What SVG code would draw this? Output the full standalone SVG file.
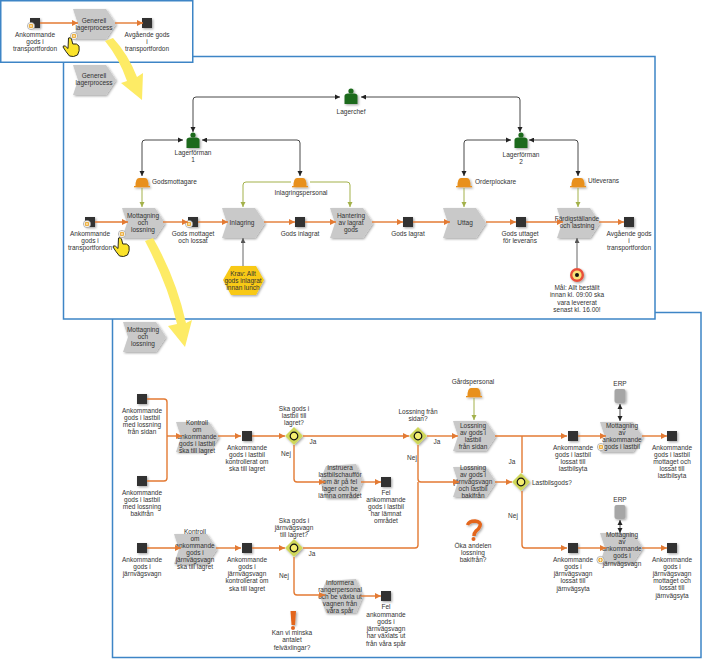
<svg xmlns="http://www.w3.org/2000/svg" width="702" height="659" viewBox="0 0 702 659">
<style>
text{font-family:"Liberation Sans",Arial,sans-serif;font-size:6.5px;fill:#333;text-anchor:middle;dominant-baseline:central}
.l{text-anchor:start}
.panel{fill:#fff;stroke:#3d85c6;stroke-width:1.5}
.fn{fill:#c9c9c9}
.ev{fill:#333}
.o{fill:none;stroke:#e37a33;stroke-width:1.4;marker-end:url(#mo)}
.on{fill:none;stroke:#e37a33;stroke-width:1.4}
.k{fill:none;stroke:#333;stroke-width:.9;marker-start:url(#mks);marker-end:url(#mk)}
.g{fill:none;stroke:#a3b14a;stroke-width:1;marker-end:url(#mg)}
.y{fill:none;stroke:#666;stroke-width:1;marker-end:url(#my)}
.arrow{fill:#fdeb65}
</style>
<defs>
<filter id="sh" x="-30%" y="-30%" width="170%" height="170%"><feDropShadow dx="1.2" dy="1.2" stdDeviation="1" flood-color="#000" flood-opacity=".35"/></filter>
<marker id="mo" markerUnits="userSpaceOnUse" markerWidth="7" markerHeight="7" refX="6" refY="3" orient="auto"><path d="M0,0L6,3L0,6Z" fill="#e37a33"/></marker>
<marker id="mk" markerUnits="userSpaceOnUse" markerWidth="7" markerHeight="7" refX="5" refY="2.500" orient="auto"><path d="M0,0L5,2.500L0,5Z" fill="#222"/></marker>
<marker id="mks" markerUnits="userSpaceOnUse" markerWidth="7" markerHeight="7" refX="0" refY="2.500" orient="auto"><path d="M5,0L0,2.500L5,5Z" fill="#222"/></marker>
<marker id="mg" markerUnits="userSpaceOnUse" markerWidth="7" markerHeight="7" refX="5" refY="2.500" orient="auto"><path d="M0,0L5,2.500L0,5Z" fill="#a3b14a"/></marker>
<marker id="my" markerUnits="userSpaceOnUse" markerWidth="7" markerHeight="7" refX="5" refY="2.500" orient="auto"><path d="M0,0L5,2.500L0,5Z" fill="#555"/></marker>
<polygon id="chev" class="fn" points="0,0 33,0 43,15 33,30 0,30 5,15" filter="url(#sh)"/>
<rect id="evt" class="ev" x="-5" y="-5" width="10" height="10" filter="url(#sh)"/>
<polygon id="hex" class="fn" points="0,17 6,2 36,0 43,17 36,34 6,34" filter="url(#sh)"/>
<g id="person" filter="url(#sh)"><circle cx="0" cy="-7" r="2.600" fill="#1f6a1f"/><path d="M-6.500,6L-6.500,-2Q-6.500,-4.500 -3,-4.500L3,-4.500Q6.500,-4.500 6.500,-2L6.500,6Z" fill="#1f6a1f"/></g>
<g id="hat" filter="url(#sh)"><path d="M-6.500,3Q-6.500,-5 -3,-5L3,-5Q6.500,-5 6.500,3Z" fill="#e8901e"/><rect x="-8" y="3" width="16" height="1.300" fill="#e8901e"/></g>
<g id="dia"><polygon points="0,-9 9,0 0,9 -9,0" fill="#cfd75a" filter="url(#sh)"/><circle r="3.800" fill="#f4ee70" stroke="#111" stroke-width="1.200"/></g>
<g id="plus"><circle r="3.600" fill="#fff" stroke="#999" stroke-width=".7"/><circle r="2.300" fill="#e8a11e"/><path d="M-1.500,0H1.500M0,-1.500V1.500" stroke="#fff" stroke-width=".7"/></g>
<g id="hand"><path d="M-2.500,-9Q-.5,-10 .5,-8L1.800,-3Q6,-4 8,-1Q9,4 6.500,8Q2.500,10.500 -1.500,9Q-5,5 -8,0Q-8,-2 -5.500,-.8L-3,1.500Z" fill="#fbe32a" stroke="#111" stroke-width=".9"/></g>
<g id="db" filter="url(#sh)"><rect x="-5.500" y="-7" width="11" height="14" rx="2" fill="#a6a6a6"/></g>
</defs>

<rect id="panel3" class="panel" x="112.500" y="312.500" width="588.500" height="345"/>
<rect id="panel2" class="panel" x="63.500" y="56.500" width="591.500" height="262.500"/>
<rect id="panel1" class="panel" x=".75" y=".75" width="192" height="61.500"/>

<g id="p1-start"><use href="#evt" x="35" y="23"/><use href="#plus" x="31" y="26"/><text x="35" y="34">Ankommande</text><text x="35" y="41">gods i</text><text x="35" y="48">transportfordon</text></g>
<g id="p1-fn"><use href="#chev" x="73" y="9"/><text x="94" y="20">Generell</text><text x="94" y="27">lagerprocess</text><use href="#plus" x="74" y="36"/><use href="#hand" x="71" y="47"/></g>
<g id="p1-end"><use href="#evt" x="147" y="23"/><text x="147" y="34">Avgående gods</text><text x="147" y="41">i</text><text x="147" y="48">transportfordon</text></g>
<g id="p2-title"><use href="#chev" x="73" y="65"/><text x="94" y="75">Generell</text><text x="94" y="82">lagerprocess</text></g>

<g id="lagerchef"><use href="#person" x="351" y="98"/><text x="351" y="111">Lagerchef</text></g>
<g id="lf1"><use href="#person" x="193" y="142"/><text x="193" y="152">Lagerförman</text><text x="193" y="159">1</text></g>
<g id="lf2"><use href="#person" x="521" y="142"/><text x="521" y="154">Lagerförman</text><text x="521" y="161">2</text></g>
<g id="godsmottagare"><use href="#hat" x="142" y="183"/><text class="l" x="152" y="181">Godsmottagare</text></g>
<g id="inlagringspersonal"><use href="#hat" x="300" y="183"/><text x="301" y="192">Inlagringspersonal</text></g>
<g id="orderplockare"><use href="#hat" x="464" y="183"/><text class="l" x="475" y="181">Orderplockare</text></g>
<g id="utleverans"><use href="#hat" x="578" y="183"/><text class="l" x="588" y="180">Utleverans</text></g>

<g id="e-ank"><use href="#evt" x="90" y="222"/><use href="#plus" x="87" y="224"/><text x="90" y="233">Ankommande</text><text x="90" y="240">gods i</text><text x="90" y="247">transportfordon</text></g>
<g id="f-mott"><use href="#chev" x="122" y="208"/><text x="143" y="215">Mottagning</text><text x="143" y="222">och</text><text x="143" y="229">lossning</text><use href="#plus" x="122" y="234"/><use href="#hand" x="121" y="247"/></g>
<g id="e-mott"><use href="#evt" x="193" y="222"/><use href="#plus" x="189" y="224"/><text x="193" y="233">Gods mottaget</text><text x="193" y="240">och lossat</text></g>
<g id="f-inl"><use href="#chev" x="222" y="208"/><text x="242" y="222">Inlagring</text></g>
<g id="e-inl"><use href="#evt" x="300" y="222"/><text x="300" y="233">Gods inlagrat</text></g>
<g id="f-hant"><use href="#chev" x="330" y="208"/><text x="351" y="215">Hantering</text><text x="351" y="222">av lagrat</text><text x="351" y="229">gods</text></g>
<g id="e-lag"><use href="#evt" x="408" y="222"/><text x="408" y="233">Gods lagrat</text></g>
<g id="f-utt"><use href="#chev" x="443" y="208"/><text x="465" y="222">Uttag</text></g>
<g id="e-utt"><use href="#evt" x="521" y="222"/><text x="520" y="233">Gods uttaget</text><text x="520" y="240">för leverans</text></g>
<g id="f-fard"><use href="#chev" x="557" y="208"/><text x="577" y="218">Färdigställande</text><text x="577" y="225">och lastning</text></g>
<g id="e-avg"><use href="#evt" x="629" y="222"/><text x="629" y="233">Avgående gods</text><text x="629" y="240">i</text><text x="629" y="247">transportfordon</text></g>
<g id="krav"><polygon points="223,280 231,266 256,266 264,280 256,295 231,295" fill="#f8c912" filter="url(#sh)"/><text x="243" y="273">Krav: Allt</text><text x="243" y="280">gods inlagrat</text><text x="243" y="287">innan lunch</text></g>
<g id="mal"><circle cx="577" cy="275" r="7" fill="#e8503a" filter="url(#sh)"/><circle cx="577" cy="275" r="4.600" fill="#f7e27a"/><circle cx="577" cy="275" r="2" fill="#111"/><text x="577" y="287">Mål: Allt beställt</text><text x="577" y="294">innan kl. 09:00 ska</text><text x="577" y="302">vara levererat</text><text x="577" y="309">senast kl. 16.00!</text></g>

<g id="p3-title"><use href="#chev" x="123" y="322"/><text x="143" y="329">Mottagning</text><text x="143" y="336">och</text><text x="143" y="343">lossning</text></g>
<g id="a1"><use href="#evt" x="142" y="399"/><text x="142" y="410">Ankommande</text><text x="142" y="417">gods i lastbil</text><text x="142" y="424">med lossning</text><text x="142" y="431">från sidan</text></g>
<g id="a2"><use href="#evt" x="142" y="481"/><text x="142" y="492">Ankommande</text><text x="142" y="499">gods i lastbil</text><text x="142" y="506">med lossning</text><text x="142" y="513">bakifrån</text></g>
<g id="k1"><use href="#chev" x="176" y="422"/><text x="197" y="422">Kontroll</text><text x="197" y="429">om</text><text x="197" y="436">ankommande</text><text x="197" y="443">gods i lastbil</text><text x="197" y="450">ska till lagret</text></g>
<g id="e1"><use href="#evt" x="247" y="436"/><text x="247" y="447">Ankommande</text><text x="247" y="454">gods i lastbil</text><text x="247" y="461">kontrollerat om</text><text x="247" y="468">ska till lagret</text></g>
<g id="d1"><use href="#dia" x="294" y="436"/><text x="294" y="408">Ska gods i</text><text x="294" y="415">lastbil till</text><text x="294" y="422">lagret?</text></g>
<g id="h1"><use href="#hex" x="320" y="464"/><text x="340" y="467">Instruera</text><text x="340" y="474">lastbilschaufför</text><text x="340" y="481">om är på fel</text><text x="340" y="488">lager och be</text><text x="340" y="495">lämna området</text></g>
<g id="e2"><use href="#evt" x="386" y="482"/><text x="386" y="492">Fel</text><text x="386" y="499">ankommande</text><text x="386" y="506">gods i lastbil</text><text x="386" y="513">har lämnat</text><text x="386" y="520">området</text></g>
<g id="d2"><use href="#dia" x="418" y="436"/><text x="418" y="411">Lossning från</text><text x="418" y="418">sidan?</text></g>
<g id="gard"><use href="#hat" x="474" y="393"/><text x="473" y="381">Gårdspersonal</text></g>
<g id="l1"><use href="#chev" x="453" y="421"/><text x="473" y="425">Lossning</text><text x="473" y="432">av gods i</text><text x="473" y="439">lastbil</text><text x="473" y="446">från sidan</text></g>
<g id="l2"><use href="#chev" x="453" y="467"/><text x="473" y="467">Lossning</text><text x="473" y="474">av gods i</text><text x="473" y="481">järnvägsvagn</text><text x="473" y="488">och lastbil</text><text x="473" y="495">bakifrån</text></g>
<g id="d3"><use href="#dia" x="521" y="482"/><text class="l" x="532" y="482">Lastbilsgods?</text></g>
<g id="e3"><use href="#evt" x="573" y="436"/><text x="573" y="447">Ankommande</text><text x="573" y="454">gods i lastbil</text><text x="573" y="461">lossat till</text><text x="573" y="468">lastbilsyta</text></g>
<g id="m1"><use href="#chev" x="600" y="422"/><text x="622" y="425">Mottagning</text><text x="622" y="432">av</text><text x="622" y="439">ankommande</text><text x="622" y="446">gods i lastbil</text><use href="#plus" x="601" y="447"/></g>
<g id="e4"><use href="#evt" x="672" y="436"/><text x="672" y="447">Ankommande</text><text x="672" y="454">gods i lastbil</text><text x="672" y="461">mottaget och</text><text x="672" y="468">lossat till</text><text x="672" y="475">lastbilsyta</text></g>
<g id="erp1"><use href="#db" x="620" y="396"/><text x="620" y="383">ERP</text></g>
<g id="erp2"><use href="#db" x="620" y="512"/><text x="620" y="499">ERP</text></g>
<g id="e5"><use href="#evt" x="573" y="548"/><text x="573" y="559">Ankommande</text><text x="573" y="566">gods i</text><text x="573" y="573">järnvägsvagn</text><text x="573" y="580">lossat till</text><text x="573" y="588">järnvägsyta</text></g>
<g id="m2"><use href="#chev" x="600" y="533"/><text x="622" y="534">Mottagning</text><text x="622" y="541">av</text><text x="622" y="548">ankommande</text><text x="622" y="555">gods i</text><text x="622" y="563">järnvägsvagn</text><use href="#plus" x="600.500" y="560"/></g>
<g id="e6"><use href="#evt" x="672" y="548"/><text x="672" y="559">Ankommande</text><text x="672" y="566">gods i</text><text x="672" y="573">järnvägsvagn</text><text x="672" y="580">mottaget och</text><text x="672" y="587">lossat till</text><text x="672" y="595">järnvägsyta</text></g>
<g id="q"><path d="M467.500,525Q469,521 475,521Q481.500,522 480,526Q479,529 476,531Q474,533 474,536" fill="none" stroke="#e3661f" stroke-width="3.500" filter="url(#sh)"/><circle cx="473.500" cy="539" r="2" fill="#e3661f"/><text x="473" y="545">Öka andelen</text><text x="473" y="552">lossning</text><text x="473" y="559">bakifrån?</text></g>
<g id="a3"><use href="#evt" x="142" y="548"/><text x="142" y="559">Ankommande</text><text x="142" y="566">gods i</text><text x="142" y="573">järnvägsvagn</text></g>
<g id="k2"><use href="#chev" x="174" y="534"/><text x="195" y="531">Kontroll</text><text x="195" y="538">om</text><text x="195" y="545">ankommande</text><text x="195" y="552">gods i</text><text x="195" y="559">järnvägsvagn</text><text x="195" y="566">ska till lagret</text></g>
<g id="e7"><use href="#evt" x="247" y="548"/><text x="247" y="559">Ankommande</text><text x="247" y="566">gods i</text><text x="247" y="573">järnvägsvagn</text><text x="247" y="580">kontrollerat om</text><text x="247" y="588">ska till lagret</text></g>
<g id="d4"><use href="#dia" x="294" y="548"/><text x="294" y="520">Ska gods i</text><text x="294" y="527">järnvägsvagn</text><text x="294" y="534">till lagret?</text></g>
<g id="h2"><use href="#hex" x="320" y="579"/><text x="340" y="582">Informera</text><text x="340" y="589">rangerpersonal</text><text x="340" y="596">och be växla ut</text><text x="340" y="603">vagnen från</text><text x="340" y="610">våra spår</text></g>
<g id="e8"><use href="#evt" x="386" y="596"/><text x="386" y="606">Fel</text><text x="386" y="614">ankommande</text><text x="386" y="621">gods i</text><text x="386" y="628">järnvägsvagn</text><text x="386" y="635">har växlats ut</text><text x="386" y="643">från våra spår</text></g>
<g id="ex"><polygon points="290.500,611 296,611 295,625 291.500,625" fill="#e3661f" filter="url(#sh)"/><circle cx="293" cy="628" r="2" fill="#e3661f"/><text x="292" y="632">Kan vi minska</text><text x="292" y="639">antalet</text><text x="292" y="647">felväxlingar?</text></g>

<g id="edge-labels"><text x="313" y="441">Ja</text><text x="286" y="453">Nej</text><text x="437" y="441">Ja</text><text x="412" y="457">Nej</text><text x="512" y="461">Ja</text><text x="513" y="515">Nej</text><text x="312" y="553">Ja</text><text x="284" y="575">Nej</text></g>

<g id="connectors">
<path class="o" d="M40,23H78"/><path class="o" d="M115,23H143"/>
<path class="k" d="M340,97H196Q193,97 193,100V132"/>
<path class="k" d="M361,97H517Q520,97 520,100V132"/>
<path class="k" d="M183,140H145Q142,140 142,143V176"/>
<path class="k" d="M202,140H297Q300,140 300,143V176"/>
<path class="k" d="M511,140H467Q464,140 464,143V176"/>
<path class="k" d="M529,140H575Q578,140 578,143V176"/>
<path class="g" d="M142,188V207"/>
<path class="g" d="M291,182H246Q243,182 243,185V207"/>
<path class="g" d="M310,182H347Q350,182 350,185V207"/>
<path class="g" d="M464,188V207"/><path class="g" d="M578,188V207"/>
<path class="o" d="M95,222H128"/><path class="o" d="M163,222H188"/><path class="o" d="M198,222H228"/><path class="o" d="M264,222H295"/><path class="o" d="M305,222H336"/><path class="o" d="M372,222H403"/><path class="o" d="M413,222H450"/><path class="o" d="M486,222H516"/><path class="o" d="M526,222H563"/><path class="o" d="M599,222H624"/>
<path class="y" d="M243,266V238"/><path class="y" d="M577,268V238"/>
<path class="on" d="M147,399H164Q167,399 167,402V478Q167,481 164,481H147"/><path class="o" d="M167,436H182"/>
<path class="o" d="M218,436H241"/><path class="o" d="M252,436H285"/><path class="o" d="M303,436H409"/>
<path class="o" d="M294,445V479Q294,482 297,482H325"/><path class="o" d="M361,482H381"/>
<path class="o" d="M427,436H458"/><path class="g" d="M474,398V420"/>
<path class="o" d="M495,436H567"/><path class="o" d="M578,436H606"/><path class="o" d="M642,436H667"/>
<path class="k" d="M620,404V421"/><path class="k" d="M620,520V533"/>
<path class="o" d="M418,445V479Q418,482 421,482H459" stroke-width="1.600"/>
<path class="o" d="M495,482H512"/>
<path class="on" d="M522,473V436"/>
<path class="o" d="M522,491V545Q522,548 525,548H567"/>
<path class="o" d="M578,548H606"/><path class="o" d="M642,548H667"/>
<path class="o" d="M147,548H181"/><path class="o" d="M216,548H241"/><path class="o" d="M252,548H285"/>
<path class="on" d="M303,548H415Q418,548 418,545V482"/>
<path class="o" d="M294,557V592Q294,595 297,595H325"/><path class="o" d="M361,596H381"/>
</g>

<g id="callouts">
<path class="arrow" d="M105,41Q119,58 127,81L121,83L142,100L143,73L137,77Q128,54 113,38Z"/>
<path class="arrow" d="M145,241Q168,285 177,324L168,326L185,347L192,320L186,323Q176,278 153,238Z"/>
</g>
</svg>
